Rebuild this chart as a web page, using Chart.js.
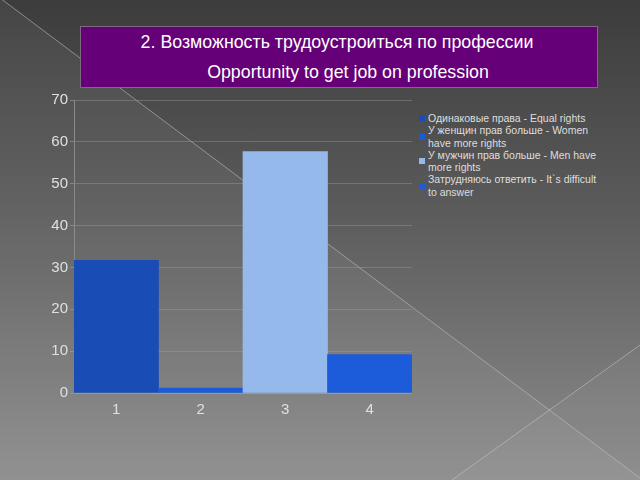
<!DOCTYPE html>
<html>
<head>
<meta charset="utf-8">
<script src="https://cdn.jsdelivr.net/npm/chart.js@4.4.0/dist/chart.umd.min.js"></script>
<style>
  html, body { margin: 0; padding: 0; }
  body {
    width: 640px; height: 480px; position: relative; overflow: hidden;
    font-family: "Liberation Sans", Arial, sans-serif;
    background: linear-gradient(to bottom, #3c3c3c 0%, #5c5c5c 45%, #8c8c8c 100%);
  }
  #deco { position: absolute; left: 0; top: 0; }
  #titlebox {
    position: absolute; left: 80px; top: 26px; width: 516px; height: 60px;
    background: #650079; border: 1px solid #7a6a7e; color: #fff;
    font-size: 17.8px; text-align: center;
  }
  #titlebox .l1 { position: absolute; left: 0; right: 4px; top: 5px; }
  #titlebox .l2 { position: absolute; left: 18px; right: 0; top: 35px; }
  #wrap { position: absolute; left: 0; top: 85px; width: 412px; height: 338px; }
  #legend {
    position: absolute; left: 419px; top: 112px; width: 186px;
    font-size: 10.5px; line-height: 12.3px; color: #dedede;
  }
  #legend .item { display: flex; align-items: center; }
  #legend .sw { width: 6px; height: 6px; margin-right: 3px; flex: none; }
</style>
</head>
<body>
<svg id="deco" width="640" height="480">
  <polygon points="0,-2 640,478 640,480 0,480" fill="rgba(255,255,255,0.05)"/>
  <polygon points="640,345 640,480 452,480" fill="rgba(255,255,255,0.03)"/>
  <line x1="0" y1="-2" x2="640" y2="478" stroke="rgba(200,200,200,0.55)" stroke-width="1"/>
  <line x1="640" y1="345" x2="452" y2="480" stroke="rgba(200,200,200,0.55)" stroke-width="1"/>
</svg>
<div id="titlebox">
  <div class="l1">2. Возможность трудоустроиться по профессии</div>
  <div class="l2">Opportunity to get job on profession</div>
</div>
<div id="wrap"><canvas id="BarChart"></canvas></div>
<div id="legend"></div>
<script>
var categories = ['1', '2', '3', '4'];
var values = [31.7, 1.2, 57.7, 9.2];
var legendLabels = [
    'Одинаковые права - Equal rights',
    'У женщин прав больше - Women have more rights',
    'У мужчин прав больше - Men have more rights',
    'Затрудняюсь ответить - It`s difficult to answer'
];
var yTicks = [0, 10, 20, 30, 40, 50, 60, 70];

var barColors = ['#1a4cb6', '#1d5bd6', '#95b9eb', '#1c5bd9'];

function createBarChart(data, labels) {
    var ctx = document.getElementById('BarChart').getContext('2d');
    var myChart = new Chart(ctx, {
        type: 'bar',
        data: {
            labels: labels,
            datasets: [{
                label: 'Values',
                data: data,
                backgroundColor: barColors,
                borderWidth: 0,
                barPercentage: 1,
                categoryPercentage: 1
            }]
        },
        options: {
            responsive: true,
            maintainAspectRatio: false,
            animation: false,
            layout: { padding: { left: 10, top: 15, right: 0, bottom: 0 } },
            plugins: { legend: { display: false }, tooltip: { enabled: false } },
            scales: {
                x: {
                    grid: { display: false },
                    border: { color: '#9a9a9a', width: 1 },
                    ticks: { color: '#e0e0e0', font: { family: 'Liberation Sans', size: 15 }, padding: 0 },
                    afterFit: function (s) { s.height = 30; }
                },
                y: {
                    min: 0,
                    max: yTicks[yTicks.length - 1],
                    afterBuildTicks: function (s) { s.ticks = yTicks.map(function (v) { return { value: v }; }); },
                    grid: { color: 'rgba(160,160,160,0.4)', tickLength: 4, tickColor: 'rgba(160,160,160,0.6)' },
                    border: { color: '#8a8a8a', width: 1 },
                    ticks: { color: '#e0e0e0', font: { family: 'Liberation Sans', size: 15 }, padding: 2 },
                    afterFit: function (s) { s.width = 64; }
                }
            }
        }
    });
}

function createLegend(labels) {
    var box = document.getElementById('legend');
    labels.forEach(function (t, i) {
        var item = document.createElement('div');
        item.className = 'item';
        var sw = document.createElement('span');
        sw.className = 'sw';
        sw.style.background = barColors[i];
        var tx = document.createElement('span');
        tx.textContent = t;
        item.appendChild(sw);
        item.appendChild(tx);
        box.appendChild(item);
    });
}

createBarChart(values, categories);
createLegend(legendLabels);
</script>
</body>
</html>
